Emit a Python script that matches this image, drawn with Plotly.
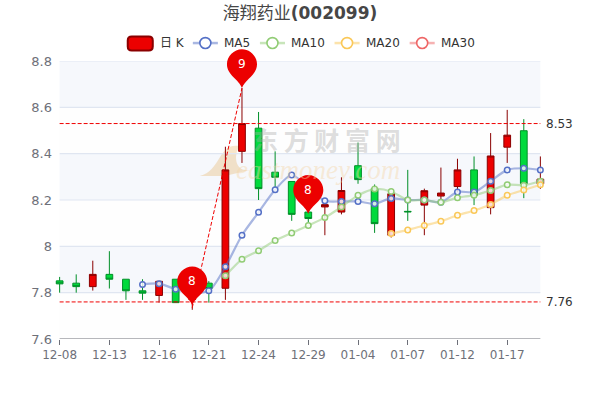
import plotly.graph_objects as go

dates = ["12-08","12-09","12-10","12-13","12-14","12-15","12-16","12-17","12-20","12-21",
         "12-22","12-23","12-24","12-27","12-28","12-29","12-30","12-31","01-04","01-05",
         "01-06","01-07","01-10","01-11","01-12","01-13","01-14","01-17","01-18","01-19"]
open_ = [7.851,7.841,7.826,7.879,7.858,7.808,7.788,7.858,7.77,7.841,
         7.819,8.41,8.51,8.32,8.28,8.148,8.17,8.148,8.348,8.249,
         8.048,8.151,8.178,8.217,8.258,8.33,8.167,8.428,8.499,8.27]
close = [7.838,7.826,7.879,7.858,7.808,7.798,7.849,7.757,7.84,7.818,
         8.33,8.53,8.249,8.298,8.138,8.12,8.18,8.241,8.288,8.098,
         8.227,8.149,8.24,8.23,8.33,8.22,8.39,8.48,8.27,8.29]
high =  [7.868,7.879,7.938,7.979,7.858,7.858,7.849,7.858,7.86,7.85,
         8.43,8.683,8.58,8.41,8.28,8.15,8.18,8.298,8.448,8.267,
         8.227,8.33,8.249,8.34,8.378,8.388,8.489,8.589,8.549,8.388]
low =   [7.80,7.80,7.809,7.818,7.769,7.769,7.757,7.757,7.726,7.757,
         7.769,8.36,8.20,8.254,8.11,8.10,8.048,8.138,8.27,8.058,
         8.038,8.11,8.048,8.185,8.234,8.178,8.138,8.36,8.208,8.248]
N = None
ma5 = [N,N,N,N,N,7.835,7.839,7.815,7.80,7.808,
       7.912,8.048,8.147,8.244,8.308,8.254,8.197,8.194,8.194,8.184,
       8.207,8.20,8.20,8.19,8.235,8.234,8.281,8.33,8.337,8.33]
ma10 = [N,N,N,N,N,N,N,N,N,N,
        7.873,7.944,7.981,8.025,8.058,8.09,8.124,8.17,8.22,8.247,
        8.237,8.20,8.20,8.19,8.21,8.221,8.241,8.266,8.264,8.281]
ma20 = [N]*20 + [8.055,8.071,8.09,8.108,8.134,8.155,8.181,8.22,8.243,8.266]
ma30 = [N]*30
ma_names = ["MA5","MA10","MA20","MA30"]
ma_colors = ["#5470c6","#91cc75","#fac858","#ee6666"]
ma_rgba = ["rgba(84,112,198,0.5)","rgba(145,204,117,0.5)","rgba(250,200,88,0.5)","rgba(238,102,102,0.5)"]
y_ticks = [7.6,7.8,8,8.2,8.4,8.6,8.8]
y_labels = ["7.6","7.8","8","8.2","8.4","8.6","8.8"]
tick_every = 3
mark_levels = [8.53, 7.76]
pin_points = [(11,8.683,"9"),(8,7.745,"8"),(15,8.14,"8")]
link_points = [(8,7.735),(11,8.683)]
legend_ticks = {"MA5":205.5,"MA10":272.5,"MA20":347,"MA30":422}

RED, RED_B, GREEN, GREEN_B = "#ec0000","#8a0000","#00da3c","#008f28"
AX = "#6e7079"
PAD = 0.4
n = len(dates)
W, H = 600, 400
TOP, BOT = 60.5, 339.5
step = 480/(n-1)
mL = 60 - PAD*step
mR = 600 - (540 + PAD*step)
PW = W-mL-mR
PH = BOT-TOP

def lpx(x): return (x-mL)/PW
def lpy(y): return (BOT-y)/PH
def val_y(v): return BOT-(v-y_ticks[0])/(y_ticks[-1]-y_ticks[0])*PH
def idx_x(i): return 60+i*step

fig = go.Figure()
fig.add_trace(go.Candlestick(
    x=dates, open=open_, high=high, low=low, close=close, name="日K", whiskerwidth=0,
    increasing=dict(fillcolor=RED, line=dict(color=RED_B, width=1)),
    decreasing=dict(fillcolor=GREEN, line=dict(color=GREEN_B, width=1)),
    showlegend=False, hoverinfo="skip"))
for name, vals, c, rgba in zip(ma_names,[ma5,ma10,ma20,ma30],ma_colors,ma_rgba):
    fig.add_trace(go.Scatter(
        x=dates, y=vals, name=name, mode="lines+markers", showlegend=False, hoverinfo="skip",
        line=dict(color=rgba, width=2.2, shape="spline", smoothing=0.8),
        marker=dict(symbol="circle", size=5.5, color="rgba(255,255,255,0.8)", line=dict(color=c, width=1.5)),
        connectgaps=False))

shapes, ann = [], []
for i in range(len(y_ticks)-1):
    shapes.append(dict(type="rect", layer="below", xref="x", yref="y", x0=0, x1=n-1, y0=y_ticks[i], y1=y_ticks[i+1],
                       line=dict(width=0), fillcolor="rgba(250,250,250,0.2)" if i%2==0 else "rgba(210,219,238,0.2)"))
for t in y_ticks[1:]:
    shapes.append(dict(type="line", layer="below", xref="x", yref="y", x0=0, x1=n-1, y0=t, y1=t,
                       line=dict(color="#e0e6f1", width=1.2)))
shapes.append(dict(type="line", layer="above", xref="x", yref="y", x0=0, x1=n-1, y0=y_ticks[0], y1=y_ticks[0],
                   line=dict(color=AX, width=1)))
# watermark flame
shapes.append(dict(type="path", layer="below", xref="paper", yref="paper",
    path=(f"M {lpx(200)} {lpy(176)} C {lpx(222)} {lpy(170)} {lpx(218)} {lpy(142)} {lpx(240)} {lpy(146)} "
          f"C {lpx(235)} {lpy(150)} {lpx(232)} {lpy(172)} {lpx(250)} {lpy(170)} L {lpx(225)} {lpy(176)} Z"),
    fillcolor="rgba(245,215,170,0.75)", line=dict(width=0)))
ann.append(dict(text="<b>东 方 财 富 网</b>", xref="paper", yref="paper", x=lpx(327), y=lpy(138.5), xanchor="center", yanchor="middle",
                showarrow=False, font=dict(family="Noto Sans CJK SC", size=25, color="rgba(170,170,170,0.4)")))
ann.append(dict(text="<i>eastmoney.com</i>", xref="paper", yref="paper", x=lpx(318), y=lpy(170), xanchor="center", yanchor="middle",
                showarrow=False, font=dict(family="Liberation Serif", size=27, color="rgba(245,215,170,0.45)")))

for v in mark_levels:
    shapes.append(dict(type="line", layer="above", xref="x", yref="y", x0=0, x1=n-1, y0=v, y1=v,
                       line=dict(color="#f00000", width=1, dash="4px,2px")))
    ann.append(dict(text="%.2f"%v, xref="x", yref="y", x=n-1, y=v, xanchor="left", yanchor="middle", xshift=4, showarrow=False,
                    font=dict(family="DejaVu Sans", size=12, color="#333")))
shapes.append(dict(type="line", layer="above", xref="x", yref="y", x0=link_points[0][0], x1=link_points[1][0],
                   y0=link_points[0][1], y1=link_points[1][1],
                   line=dict(color="#f00000", width=1, dash="4px,2px")))
R = 15
for i,v,t in pin_points:
    cx, ty = idx_x(i), val_y(v)
    X = lambda d: lpx(cx+d)
    Y = lambda d: lpy(ty-d)
    path = (f"M {X(0)} {Y(0)} C {X(-3)} {Y(9)} {X(-R)} {Y(13)} {X(-R)} {Y(24)} "
            f"C {X(-R)} {Y(32)} {X(-8)} {Y(39)} {X(0)} {Y(39)} "
            f"C {X(8)} {Y(39)} {X(R)} {Y(32)} {X(R)} {Y(24)} "
            f"C {X(R)} {Y(13)} {X(3)} {Y(9)} {X(0)} {Y(0)} Z")
    shapes.append(dict(type="path", layer="above", xref="paper", yref="paper", path=path,
                       fillcolor="#ec0000", line=dict(width=0)))
    ann.append(dict(text=t, xref="paper", yref="paper", x=X(0), y=Y(24), xanchor="center", yanchor="middle", showarrow=False,
                    font=dict(family="DejaVu Sans", size=12, color="white")))

x0,x1,y0,y1 = lpx(128),lpx(153),lpy(36),lpy(50)
rx = 4/PW; ry = 4/PH
shapes.append(dict(type="path", layer="above", xref="paper", yref="paper",
    path=f"M {x0+rx} {y0} L {x1-rx} {y0} Q {x1} {y0} {x1} {y0-ry} L {x1} {y1+ry} Q {x1} {y1} {x1-rx} {y1} L {x0+rx} {y1} Q {x0} {y1} {x0} {y1+ry} L {x0} {y0-ry} Q {x0} {y0} {x0+rx} {y0} Z",
    fillcolor=RED, line=dict(color=RED_B, width=2)))
ann.append(dict(text="日 K", xref="paper", yref="paper", x=lpx(158), y=lpy(42), xanchor="left", yanchor="middle", showarrow=False,
                font=dict(family="DejaVu Sans, Noto Sans CJK SC", size=12, color="#333")))
for name,c,rgba in zip(ma_names,ma_colors,ma_rgba):
    cx = legend_ticks[name]
    shapes.append(dict(type="line", layer="above", xref="paper", yref="paper", x0=lpx(cx-12.5), x1=lpx(cx+12.5),
                       y0=lpy(42.5), y1=lpy(42.5), line=dict(color=rgba, width=2.5)))
    shapes.append(dict(type="circle", layer="above", xref="paper", yref="paper", x0=lpx(cx-5.5), x1=lpx(cx+5.5),
                       y0=lpy(48), y1=lpy(37), fillcolor="white", line=dict(color=c, width=1.6)))
    ann.append(dict(text=name, xref="paper", yref="paper", x=lpx(cx+17), y=lpy(42.5), xanchor="left", yanchor="middle", showarrow=False,
                    font=dict(family="DejaVu Sans", size=12, color="#333")))

fig.update_layout(
    width=W, height=H, autosize=False,
    margin=dict(l=mL, r=mR, t=TOP, b=H-BOT, pad=0),
    paper_bgcolor="white", plot_bgcolor="white", boxgap=0.42,
    showlegend=False, shapes=shapes, annotations=ann,
    title=dict(text="海翔药业<b>(002099)</b>", x=0.5, xanchor="center", xref="paper", y=1-13/H, yanchor="middle",
               font=dict(family="DejaVu Sans, Noto Sans CJK SC", size=17, color="#464646")),
    xaxis=dict(type="category", categoryorder="array", categoryarray=dates, range=[-PAD, n-1+PAD],
               rangeslider=dict(visible=False), showgrid=False, showline=False, zeroline=False,
               tickmode="array", tickvals=dates[::tick_every], ticktext=dates[::tick_every],
               ticks="outside", ticklen=5, tickcolor=AX, tickwidth=1,
               tickfont=dict(family="DejaVu Sans", size=12, color=AX)),
    yaxis=dict(range=[y_ticks[0], y_ticks[-1]], showgrid=False, zeroline=False, showline=False,
               tickmode="array", tickvals=y_ticks, ticktext=y_labels, ticks="",
               tickfont=dict(family="DejaVu Sans", size=13, color=AX)),
)
fig.write_html("out.html", config={"displayModeBar": False},
               post_script="document.body.style.margin='0';")
